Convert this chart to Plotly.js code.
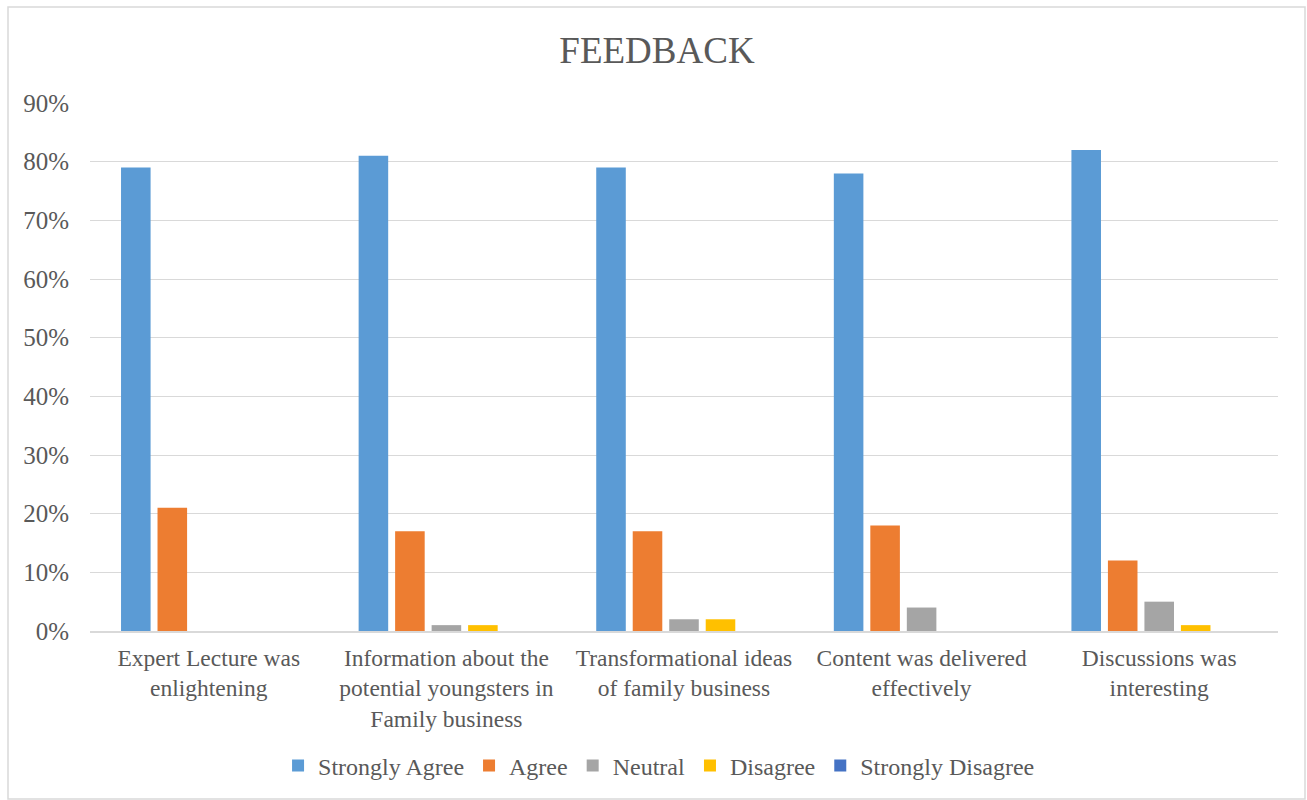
<!DOCTYPE html>
<html><head><meta charset="utf-8">
<script src="https://cdn.plot.ly/plotly-3.0.1.min.js"></script>
<style>body{margin:0;background:#fff}#c{width:1307px;height:800px}</style>
</head><body><div id="c"></div>
<script>
const categories = ["Expert Lecture was<br>enlightening", "Information about the<br>potential youngsters in<br>Family business", "Transformational ideas<br>of family business", "Content was delivered<br>effectively", "Discussions was<br>interesting"];
const seriesNames = ["Strongly Agree", "Agree", "Neutral", "Disagree", "Strongly Disagree"];
const stronglyAgree = [79, 81, 79, 78, 82];
const agree = [21, 17, 17, 18, 12];
const neutral = [0, 1, 2, 4, 5];
const disagree = [0, 1, 2, 0, 1];
const stronglyDisagree = [0, 0, 0, 0, 0];
const yTicks = [0, 10, 20, 30, 40, 50, 60, 70, 80, 90];
const colors = ["#5b9bd5", "#ed7d31", "#a5a5a5", "#ffc000", "#4472c4"];
const values = [stronglyAgree, agree, neutral, disagree, stronglyDisagree];
const font = "Liberation Serif, Times New Roman, serif";
const traces = seriesNames.map((n, i) => ({
  type: 'bar', name: n, x: categories, y: values[i],
  marker: {color: colors[i]}, hoverinfo: 'y+name'
}));
const layout = {
  width: 1307, height: 800,
  margin: {l: 90, r: 29, t: 103, b: 169},
  paper_bgcolor: '#fff', plot_bgcolor: '#fff',
  font: {family: font, color: '#595959', size: 23},
  title: {text: 'FEEDBACK', font: {family: font, size: 37, color: '#595959'}, x: 657 / 1307, xanchor: 'center', y: 1 - 50/800, yanchor: 'middle'},
  barmode: 'group', bargap: 0.232, bargroupgap: 0.19,
  xaxis: {tickfont: {size: 23.5, color: '#595959'}, showline: true, linecolor: '#d9d9d9', linewidth: 1.5, ticks: '', showgrid: false, ticklabelstandoff: 5},
  yaxis: {range: [0, 90], tickvals: yTicks, ticktext: yTicks.map(v => v + '%'), gridcolor: '#d9d9d9', gridwidth: 1, zeroline: false, showline: false, ticks: '', ticklabelstandoff: 20, tickfont: {size: 25, color: '#595959'}},
  legend: {orientation: 'h', x: 0.479, xanchor: 'center', y: (631 - 766) / 528, yanchor: 'middle', font: {size: 24, color: '#595959'}, itemwidth: 30, traceorder: 'normal'},
  shapes: [{type: 'rect', xref: 'paper', yref: 'paper', x0: (8 - 90) / 1188, x1: (1305 - 90) / 1188, y0: (631 - 799) / 528, y1: (631 - 7) / 528, line: {color: '#d9d9d9', width: 1.5}, fillcolor: 'rgba(0,0,0,0)', layer: 'below'}]
};
Plotly.newPlot('c', traces, layout, {displayModeBar: false, staticPlot: true});
</script></body></html>
